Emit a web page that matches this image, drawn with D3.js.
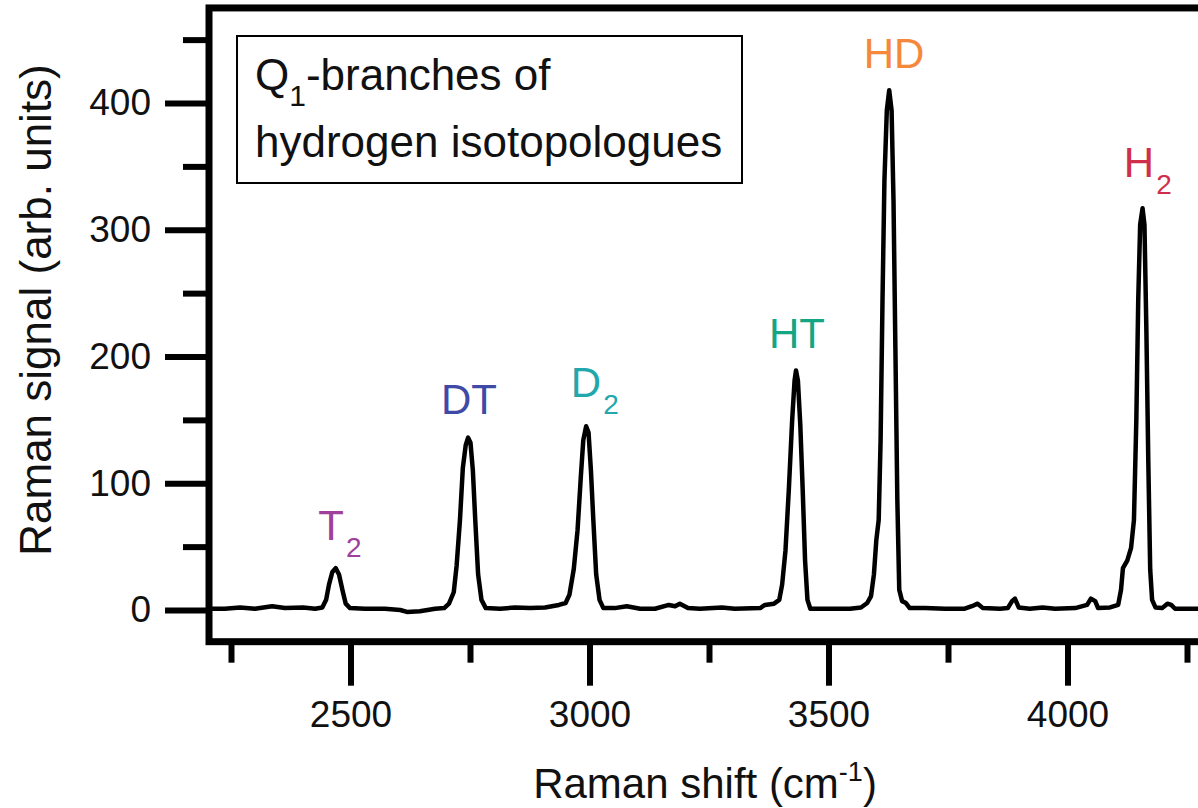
<!DOCTYPE html>
<html>
<head>
<meta charset="utf-8">
<script src="https://cdn.jsdelivr.net/npm/d3@7"></script>
<style>
  body { margin: 0; background: #fff; }
  text { font-family: "Liberation Sans", Arial, sans-serif; }
</style>
</head>
<body>
<div id="chart"></div>
<script>
// Raman spectrum, Q1-branches of the hydrogen isotopologues
// values (shift in cm-1, signal in arb. units)
const shift = [
  2204, 2237, 2269, 2300, 2336, 2363, 2401, 2426, 2441,
  2449, 2455, 2462, 2469, 2476, 2483, 2490, 2499,
  2530, 2572, 2604, 2618, 2645, 2677, 2696, 2706,
  2716, 2722, 2729, 2735, 2741, 2746, 2751, 2756, 2761, 2767, 2774, 2783,
  2813, 2844, 2876, 2907, 2936, 2950,
  2958, 2967, 2975, 2982, 2987, 2993, 2998, 3003, 3008, 3014, 3021, 3029,
  3053, 3078, 3106, 3137, 3166, 3179, 3189, 3206, 3231, 3277, 3304, 3357, 3367, 3386, 3397,
  3403, 3410, 3417, 3424, 3429, 3432, 3436, 3441, 3446, 3451, 3456, 3462,
  3503, 3545, 3568, 3581,
  3589, 3595, 3600, 3605, 3609, 3613, 3617, 3622, 3627, 3632, 3636, 3640, 3644, 3648, 3654, 3662, 3670,
  3702, 3744, 3785, 3800, 3812, 3823, 3859, 3875, 3884, 3890, 3898, 3921, 3948, 3974,
  4016, 4041, 4049, 4058, 4064, 4089, 4106,
  4112, 4116, 4125, 4133, 4139, 4144, 4148, 4152, 4157, 4161, 4165, 4169, 4173, 4177, 4184,
  4198, 4209, 4217, 4225, 4273, 4309
];
const signal = [
  1, 1, 2, 1, 3, 1.5, 2, 1, 2,
  8, 20, 30, 33, 28, 16, 5, 1.5,
  1, 1, 0, -1.5, -1, 1, 1.5, 5,
  14, 35, 71, 112, 130, 136, 132, 110, 71, 28, 8, 1.5,
  1, 2, 1.5, 2, 4, 5.5,
  12, 32, 63, 106, 134, 145, 140, 110, 71, 28, 8, 1.5,
  1.5, 3, 1, 1, 4, 3, 5, 1.5, 1, 2, 1, 1.5, 4, 5, 8,
  20, 47, 95, 150, 181, 189, 181, 146, 95, 39, 8, 1,
  1, 1, 2, 5.5,
  11, 28, 55, 71, 134, 245, 339, 394, 410, 394, 323, 205, 87, 16, 7, 5.5, 1.5,
  1.5, 1, 1, 3, 5, 1.5, 1, 1.5, 7, 9, 2, 1, 2, 1,
  1.5, 4, 9, 7, 1.5, 2, 4,
  16, 33, 39, 49, 71, 150, 245, 304, 317, 304, 221, 118, 32, 8, 2,
  1.5, 5, 4, 1, 1, 1
];

// peak labels: name, subscript, label centre (shift), label baseline (signal), colour
const peakNames = ["T", "DT", "D", "HT", "HD", "H"];
const peakSubs = ["2", "", "2", "", "", "2"];
const peakShift = [2478, 2748, 3011, 3434, 3637, 4168];
const peakSignal = [55, 155, 168, 207, 428, 342];
const peakColors = ["#a0409c", "#3f4aa6", "#22a7ac", "#14a683", "#f5883a", "#d02f4c"];

const yMajor = [0, 100, 200, 300, 400];
const yMinor = [50, 150, 250, 350, 450];
const xMajor = [2500, 3000, 3500, 4000];
const xMinor = [2250, 2750, 3250, 3750, 4250];

const width = 1198;
const height = 808;

const x = d3.scaleLinear().domain([2250, 4250]).range([231, 1187]);
const y = d3.scaleLinear().domain([0, 400]).range([610, 103]);

const xLeft = 2204, xRight = 4309, yTop = 475, yBottom = -25;

const svg = d3.select("#chart")
  .append("svg")
  .attr("width", width)
  .attr("height", height)
  .attr("viewBox", [0, 0, width, height]);

// spectrum
const line = d3.line()
  .x((d, i) => x(shift[i]))
  .y((d, i) => y(signal[i]));

svg.append("path")
  .datum(signal)
  .attr("fill", "none")
  .attr("stroke", "#000")
  .attr("stroke-width", 4.5)
  .attr("stroke-linejoin", "round")
  .attr("d", line);

// axes, ticks outside the frame
function styleAxis(g, w) {
  g.select(".domain").remove();
  g.selectAll(".tick line").attr("stroke", "#000").attr("stroke-width", w);
  g.selectAll(".tick text")
    .attr("fill", "#111")
    .attr("font-size", 37);
}

svg.append("g")
  .attr("transform", `translate(${x(xLeft)},0)`)
  .call(d3.axisLeft(y).tickValues(yMajor).tickSize(44).tickPadding(14).tickFormat(d3.format("d")))
  .call(g => styleAxis(g, 6));

svg.append("g")
  .attr("transform", `translate(${x(xLeft)},0)`)
  .call(d3.axisLeft(y).tickValues(yMinor).tickSize(26).tickFormat(""))
  .call(g => styleAxis(g, 6));

svg.append("g")
  .attr("transform", `translate(0,${y(yBottom)})`)
  .call(d3.axisBottom(x).tickValues(xMajor).tickSize(44).tickPadding(15).tickFormat(d3.format("d")))
  .call(g => styleAxis(g, 6));

svg.append("g")
  .attr("transform", `translate(0,${y(yBottom)})`)
  .call(d3.axisBottom(x).tickValues(xMinor).tickSize(21).tickFormat(""))
  .call(g => styleAxis(g, 6));

// heavy frame
svg.append("rect")
  .attr("x", x(xLeft))
  .attr("y", y(yTop))
  .attr("width", x(xRight) - x(xLeft))
  .attr("height", y(yBottom) - y(yTop))
  .attr("fill", "none")
  .attr("stroke", "#000")
  .attr("stroke-width", 7);

// axis titles
const xTitle = svg.append("text")
  .attr("x", 705)
  .attr("y", 798)
  .attr("text-anchor", "middle")
  .attr("font-size", 42)
  .attr("fill", "#111");
xTitle.append("tspan").text("Raman shift (cm");
xTitle.append("tspan").attr("font-size", 27).attr("dy", -17).text("-1");
xTitle.append("tspan").attr("dy", 17).text(")");

svg.append("text")
  .attr("transform", "translate(51,310) rotate(-90)")
  .attr("text-anchor", "middle")
  .attr("font-size", 44)
  .attr("fill", "#111")
  .text("Raman signal (arb. units)");

// legend box
svg.append("rect")
  .attr("x", 237)
  .attr("y", 36)
  .attr("width", 505)
  .attr("height", 147)
  .attr("fill", "#fff")
  .attr("stroke", "#000")
  .attr("stroke-width", 2);

const l1 = svg.append("text")
  .attr("x", 255)
  .attr("y", 90)
  .attr("font-size", 44)
  .attr("fill", "#111");
l1.append("tspan").text("Q");
l1.append("tspan").attr("font-size", 30).attr("dy", 16).text("1");
l1.append("tspan").attr("dy", -16).text("-branches of");

svg.append("text")
  .attr("x", 255)
  .attr("y", 157)
  .attr("font-size", 44)
  .attr("fill", "#111")
  .text("hydrogen isotopologues");

// peak labels
peakNames.forEach((name, i) => {
  const t = svg.append("text")
    .attr("x", x(peakShift[i]))
    .attr("y", y(peakSignal[i]))
    .attr("text-anchor", "middle")
    .attr("font-size", 42)
    .attr("fill", peakColors[i]);
  t.append("tspan").text(name);
  if (peakSubs[i]) {
    t.append("tspan").attr("font-size", 28).attr("dx", 2).attr("dy", 17).text(peakSubs[i]);
  }
});
</script>
</body>
</html>
